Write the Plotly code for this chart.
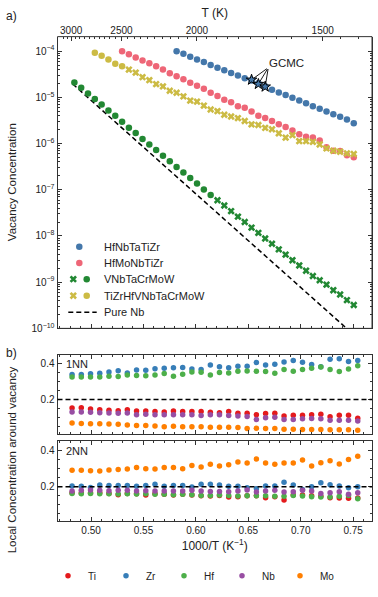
import numpy as np
import plotly.graph_objects as go

# ─── Data ────────────────────────────────────────────────────────────────────

# a) vacancy concentration, common 1000/T grid (index 0..41)
inv_t = [0.4841, 0.4906, 0.4971, 0.5036, 0.5101, 0.5166, 0.5231, 0.5296,
         0.5361, 0.5426, 0.5491, 0.5556, 0.5621, 0.5686, 0.5751, 0.5816,
         0.5881, 0.5946, 0.6011, 0.6076, 0.6141, 0.6206, 0.6271, 0.6336,
         0.6401, 0.6466, 0.6531, 0.6596, 0.6661, 0.6726, 0.6791, 0.6856,
         0.6921, 0.6986, 0.7051, 0.7116, 0.7181, 0.7246, 0.7311, 0.7376,
         0.7441, 0.7506]

hfnbtatizr = [1.00e-4, 8.79e-5, 7.57e-5, 6.64e-5, 5.82e-5, 5.02e-5, 4.40e-5,
              3.86e-5, 3.39e-5, 2.97e-5, 2.60e-5, 2.32e-5, 2.03e-5, 1.75e-5,
              1.46e-5, 1.28e-5, 1.12e-5, 9.87e-6, 8.51e-6, 7.46e-6, 6.44e-6,
              5.65e-6, 4.95e-6, 4.34e-6, 3.80e-6, 3.34e-6, 2.74e-6]      # idx 15..41
gcmc = [2.40e-5, 1.94e-5, 1.70e-5]                                        # idx 26..28

hfmonbtizr = [1.00e-4, 8.63e-5, 7.33e-5, 6.32e-5, 5.46e-5, 4.70e-5, 3.99e-5,
              3.33e-5, 2.87e-5, 2.48e-5, 2.07e-5, 1.78e-5, 1.54e-5, 1.26e-5,
              1.07e-5, 8.93e-6, 7.83e-6, 6.44e-6, 5.93e-6, 4.94e-6, 4.00e-6,
              3.56e-6, 3.08e-6, 2.61e-6, 2.29e-6, 1.91e-6, 1.59e-6, 1.40e-6,
              1.35e-6, 1.16e-6, 8.30e-7, 7.00e-7, 6.90e-7, 5.60e-7, 5.04e-7]  # idx 7..41

vnbtacrmow_dot = [2.10e-5, 1.61e-5, 1.22e-5, 9.25e-6, 6.98e-6, 5.20e-6, 4.00e-6,
                  2.97e-6, 2.21e-6, 1.70e-6, 1.26e-6, 9.57e-7, 7.23e-7, 5.47e-7,
                  4.14e-7, 3.13e-7, 2.37e-7, 1.79e-7, 1.37e-7, 1.02e-7, 7.74e-8]  # idx 0..20
vnbtacrmow_x = [5.94e-8, 4.57e-8, 3.46e-8, 2.62e-8, 2.01e-8, 1.52e-8, 1.17e-8,
                8.83e-9, 6.79e-9, 5.14e-9, 3.95e-9, 2.99e-9, 2.30e-9, 1.77e-9,
                1.36e-9, 1.10e-9, 8.85e-10, 6.70e-10, 5.41e-10, 4.09e-10, 3.20e-10]  # idx 21..41

tizrhf_dot = [9.23e-5, 7.96e-5, 6.64e-5, 5.37e-5, 4.70e-5]               # idx 3..7
tizrhf_x = [3.99e-5, 3.44e-5, 2.74e-5, 2.36e-5, 1.94e-5, 1.73e-5, 1.39e-5,
            1.26e-5, 1.05e-5, 8.51e-6, 8.11e-6, 6.65e-6, 5.46e-6, 5.04e-6,
            4.20e-6, 3.86e-6, 3.56e-6, 3.08e-6, 2.61e-6, 2.52e-6, 2.18e-6,
            2.04e-6, 1.67e-6, 1.35e-6, 1.52e-6, 1.13e-6, 1.13e-6, 1.09e-6,
            9.57e-7, 7.85e-7, 7.00e-7, 6.67e-7, 6.14e-7, 5.94e-7]         # idx 8..41

pure_nb_x = [0.4825, 0.7530]
pure_nb_y = [1.95e-5, 6.5e-11]

# b) local concentration around the vacancy
inv_t_b = [0.4819, 0.4907, 0.4995, 0.5083, 0.5171, 0.5259, 0.5346, 0.5434,
           0.5522, 0.5610, 0.5698, 0.5786, 0.5874, 0.5962, 0.6050, 0.6138,
           0.6225, 0.6313, 0.6401, 0.6489, 0.6577, 0.6665, 0.6753, 0.6841,
           0.6929, 0.7017, 0.7104, 0.7192, 0.7280, 0.7368, 0.7456, 0.7544]

nn1 = {
    "Ti": [0.153, 0.155, 0.147, 0.144, 0.140, 0.138, 0.144, 0.136, 0.136, 0.133,
           0.131, 0.136, 0.133, 0.133, 0.134, 0.129, 0.127, 0.134, 0.124, 0.124,
           0.116, 0.122, 0.124, 0.109, 0.113, 0.113, 0.116, 0.118, 0.104, 0.113,
           0.113, 0.096],
    "Zr": [0.340, 0.340, 0.344, 0.347, 0.355, 0.362, 0.349, 0.366, 0.364, 0.373,
           0.375, 0.378, 0.380, 0.371, 0.369, 0.393, 0.384, 0.378, 0.386, 0.386,
           0.407, 0.393, 0.398, 0.411, 0.418, 0.409, 0.397, 0.384, 0.426, 0.428,
           0.413, 0.418],
    "Hf": [0.326, 0.327, 0.327, 0.327, 0.331, 0.329, 0.337, 0.335, 0.333, 0.337,
           0.346, 0.331, 0.342, 0.355, 0.353, 0.337, 0.351, 0.349, 0.358, 0.360,
           0.358, 0.357, 0.347, 0.369, 0.358, 0.369, 0.375, 0.382, 0.369, 0.357,
           0.371, 0.389],
    "Nb": [0.131, 0.131, 0.129, 0.127, 0.125, 0.124, 0.125, 0.116, 0.118, 0.116,
           0.115, 0.116, 0.115, 0.115, 0.111, 0.115, 0.115, 0.111, 0.109, 0.105,
           0.089, 0.098, 0.102, 0.089, 0.089, 0.093, 0.094, 0.093, 0.085, 0.085,
           0.084, 0.080],
    "Mo": [0.069, 0.067, 0.065, 0.065, 0.064, 0.062, 0.058, 0.055, 0.055, 0.053,
           0.049, 0.051, 0.049, 0.049, 0.049, 0.045, 0.045, 0.045, 0.044, 0.038,
           0.040, 0.038, 0.038, 0.034, 0.034, 0.033, 0.033, 0.033, 0.031, 0.031,
           0.031, 0.029],
}

nn2 = {
    "Ti": [0.167, 0.165, 0.165, 0.167, 0.163, 0.156, 0.163, 0.161, 0.154, 0.161,
           0.158, 0.154, 0.158, 0.154, 0.150, 0.149, 0.152, 0.143, 0.145, 0.150,
           0.150, 0.139, 0.145, 0.127, 0.154, 0.154, 0.150, 0.147, 0.139, 0.138,
           0.136, 0.138],
    "Zr": [0.204, 0.202, 0.196, 0.209, 0.207, 0.207, 0.207, 0.202, 0.206, 0.213,
           0.202, 0.206, 0.207, 0.198, 0.213, 0.213, 0.209, 0.202, 0.202, 0.194,
           0.189, 0.204, 0.204, 0.224, 0.209, 0.185, 0.200, 0.222, 0.211, 0.204,
           0.194, 0.200],
    "Hf": [0.163, 0.161, 0.163, 0.161, 0.161, 0.160, 0.161, 0.160, 0.161, 0.158,
           0.158, 0.156, 0.158, 0.156, 0.152, 0.152, 0.154, 0.152, 0.149, 0.150,
           0.150, 0.150, 0.147, 0.147, 0.152, 0.149, 0.145, 0.143, 0.143, 0.147,
           0.152, 0.134],
    "Nb": [0.176, 0.180, 0.182, 0.180, 0.178, 0.180, 0.180, 0.176, 0.178, 0.176,
           0.176, 0.176, 0.176, 0.180, 0.176, 0.174, 0.174, 0.172, 0.176, 0.182,
           0.171, 0.176, 0.180, 0.171, 0.172, 0.180, 0.176, 0.163, 0.167, 0.172,
           0.158, 0.167],
    "Mo": [0.290, 0.290, 0.288, 0.286, 0.292, 0.294, 0.297, 0.305, 0.299, 0.297,
           0.305, 0.306, 0.299, 0.316, 0.308, 0.323, 0.314, 0.321, 0.336, 0.330,
           0.352, 0.330, 0.323, 0.330, 0.330, 0.347, 0.314, 0.332, 0.343, 0.325,
           0.350, 0.367],
}
random_level = 0.2

t_major = [3000, 2500, 2000, 1500]
t_minor = [t for t in range(1400, 3150, 50) if t not in t_major]

# ─── Styling ─────────────────────────────────────────────────────────────────

W, H = 378, 597
FONT = "Liberation Sans, Arial, sans-serif"
INK = "#222222"
FRAME = "#333333"
C_BLUE, C_PINK, C_GREEN, C_YELLOW = "#4477AA", "#EE6677", "#228833", "#CCBB44"
ELEM_COLORS = {"Ti": "#e41a1c", "Zr": "#377eb8", "Hf": "#4daf4a",
               "Nb": "#984ea3", "Mo": "#ff7f00"}

X_RANGE = [0.468, 0.768]
XDOM = [57.5 / W, 372 / W]
Y_RANGE_A = [-10, -3.685]
A_TOP, A_BOT = 37, 331.7


def ydom(top_px, bot_px):
    return [1 - bot_px / H, 1 - top_px / H]


def t_pos(T):
    # position of the temperature ticks on the upper axis
    return 0.72 * 1000 / T + 0.241


base = dict(showline=True, linecolor=FRAME, linewidth=1, ticks="inside",
            tickcolor=FRAME, ticklen=4, showgrid=False, zeroline=False,
            tickfont=dict(size=10, color=INK))
x_minor = dict(dtick=0.01, tick0=0.5, ticks="inside", ticklen=2, tickcolor=FRAME)
y_minor = dict(dtick=0.05, tick0=0, ticks="inside", ticklen=2, tickcolor=FRAME)

fig = go.Figure()

# ─── Panel a ─────────────────────────────────────────────────────────────────
dot = dict(size=6.5, symbol="circle")
cross = dict(size=6.5, symbol="x")

fig.add_trace(go.Scatter(x=pure_nb_x, y=pure_nb_y, mode="lines",
                         line=dict(color="black", width=1.5, dash="5px,3px"),
                         xaxis="x", yaxis="y", showlegend=False))
fig.add_trace(go.Scatter(x=inv_t[15:], y=hfnbtatizr, mode="markers",
                         marker=dict(color=C_BLUE, **dot), showlegend=False))
fig.add_trace(go.Scatter(x=inv_t[7:], y=hfmonbtizr, mode="markers",
                         marker=dict(color=C_PINK, **dot), showlegend=False))
fig.add_trace(go.Scatter(x=inv_t[:21], y=vnbtacrmow_dot, mode="markers",
                         marker=dict(color=C_GREEN, **dot), showlegend=False))
fig.add_trace(go.Scatter(x=inv_t[21:], y=vnbtacrmow_x, mode="markers",
                         marker=dict(color=C_GREEN, **cross), showlegend=False))
fig.add_trace(go.Scatter(x=inv_t[3:8], y=tizrhf_dot, mode="markers",
                         marker=dict(color=C_YELLOW, **dot), showlegend=False))
fig.add_trace(go.Scatter(x=inv_t[8:], y=tizrhf_x, mode="markers",
                         marker=dict(color=C_YELLOW, **cross), showlegend=False))
fig.add_trace(go.Scatter(x=inv_t[26:29], y=gcmc, mode="markers",
                         marker=dict(color=C_BLUE, size=8, symbol="star",
                                     line=dict(color="black", width=1)),
                         showlegend=False))
# invisible carrier for the temperature axis (thin strip on top of panel a)
fig.add_trace(go.Scatter(x=X_RANGE, y=[0, 0], mode="markers",
                         marker=dict(opacity=0), xaxis="x2", yaxis="y2",
                         showlegend=False, hoverinfo="skip"))

# panel a frame, in paper coordinates
fig.add_shape(type="rect", xref="paper", yref="paper", x0=XDOM[0], x1=XDOM[1],
              y0=1 - A_BOT / H, y1=1 - A_TOP / H,
              line=dict(color=FRAME, width=1), layer="above")

# GCMC label with leader lines
hub_x, hub_y = 0.6691, -4.355
for xs, ys in zip(inv_t[26:29], gcmc):
    fig.add_annotation(x=xs, y=np.log10(ys), ax=hub_x, ay=hub_y,
                       axref="x", ayref="y", xref="x", yref="y", text="",
                       showarrow=True, arrowhead=0, arrowwidth=0.9,
                       arrowcolor="black", standoff=3)
fig.add_annotation(x=0.6867, y=-4.25, xref="x", yref="y", text="GCMC",
                   showarrow=False, font=dict(size=11.5, color=INK))

# ─── Panel b ─────────────────────────────────────────────────────────────────
for el, col in ELEM_COLORS.items():
    fig.add_trace(go.Scatter(x=inv_t_b, y=nn1[el], mode="markers", name=el,
                             marker=dict(color=col, size=5.5),
                             xaxis="x3", yaxis="y3", showlegend=True))
for el, col in ELEM_COLORS.items():
    fig.add_trace(go.Scatter(x=inv_t_b, y=nn2[el], mode="markers", name=el,
                             marker=dict(color=col, size=5.5),
                             xaxis="x4", yaxis="y4", showlegend=False))

for xa, ya in (("x3", "y3"), ("x4", "y4")):
    fig.add_shape(type="line", xref=xa + " domain", x0=0, x1=1,
                  yref=ya, y0=random_level, y1=random_level,
                  line=dict(color="black", width=1.5, dash="5px,3px"))

# ─── Custom legend for panel a (pixel overlay axes) ──────────────────────────
leg_rows = [249.3, 265.7, 282, 298.7, 315.3]
leg_names = ["HfNbTaTiZr", "HfMoNbTiZr", "VNbTaCrMoW", "TiZrHfVNbTaCrMoW", "Pure Nb"]
pix = dict(xaxis="x5", yaxis="y5", showlegend=False, hoverinfo="skip")
fig.add_trace(go.Scatter(x=[79.3, 79.3], y=leg_rows[:2], mode="markers",
                         marker=dict(color=[C_BLUE, C_PINK], **dot), **pix))
fig.add_trace(go.Scatter(x=[73.3, 73.3], y=leg_rows[2:4], mode="markers",
                         marker=dict(color=[C_GREEN, C_YELLOW], **cross), **pix))
fig.add_trace(go.Scatter(x=[86.7, 86.7], y=leg_rows[2:4], mode="markers",
                         marker=dict(color=[C_GREEN, C_YELLOW], **dot), **pix))
fig.add_trace(go.Scatter(x=[68.3, 96.7], y=[leg_rows[4]] * 2, mode="lines",
                         line=dict(color="black", width=1.5, dash="5px,3px"), **pix))
for name, yr in zip(leg_names, leg_rows):
    fig.add_annotation(x=101.7, y=yr, xref="x5", yref="y5", text=name,
                       showarrow=False, xanchor="left",
                       font=dict(size=11, color=INK))

# ─── Texts ───────────────────────────────────────────────────────────────────
for txt, px, py, size, ang in [("a)", 11, 16, 12, 0), ("b)", 11, 357, 12, 0),
                               ("Vacancy Concentration", 12, 184, 11.5, -90),
                               ("Local Concentration around vacancy", 12, 465, 11.5, -90)]:
    fig.add_annotation(x=px / W, y=1 - py / H, xref="paper", yref="paper",
                       text=txt, showarrow=False, textangle=ang,
                       xanchor="center", yanchor="middle",
                       font=dict(size=size, color=INK))
for txt, xa, ya in [("1NN", "x3", "y3"), ("2NN", "x4", "y4")]:
    fig.add_annotation(x=0.02, y=0.98, xref=xa + " domain", yref=ya + " domain",
                       text=txt, showarrow=False, xanchor="left", yanchor="top",
                       font=dict(size=11, color=INK))

# ─── Axes ────────────────────────────────────────────────────────────────────
dec = list(range(-10, -3))
y_minor_vals = [m * 10.0 ** d for d in range(-11, -3) for m in range(2, 10)]

fig.update_layout(
    width=W, height=H, margin=dict(l=0, r=0, t=0, b=0),
    plot_bgcolor="rgba(0,0,0,0)", paper_bgcolor="white",
    font=dict(family=FONT, size=11, color=INK),
    xaxis=dict(base, domain=XDOM, range=X_RANGE, anchor="y",
               dtick=0.05, tick0=0.5, showticklabels=False, minor=x_minor),
    xaxis2=dict(base, domain=XDOM, side="top", anchor="y2", range=X_RANGE,
                showline=False,
                tickmode="array", tickvals=[t_pos(t) for t in t_major],
                ticktext=[str(t) for t in t_major],
                minor=dict(tickmode="array", tickvals=[t_pos(t) for t in t_minor],
                           ticks="inside", ticklen=2, tickcolor=FRAME),
                title=dict(text="T (K)", font=dict(size=12), standoff=4)),
    yaxis2=dict(domain=[1 - (A_TOP + 0.5) / H, 1 - A_TOP / H], anchor="x2",
                visible=False, range=[-1, 1]),
    yaxis=dict(base, type="log", domain=ydom(A_TOP, A_BOT), anchor="x",
               range=Y_RANGE_A, mirror="allticks",
               tickmode="array", tickvals=[10.0 ** d for d in dec],
               ticktext=["10<sup>\u2212%d</sup>" % -d for d in dec],
               minor=dict(tickmode="array", tickvals=y_minor_vals,
                          ticks="inside", ticklen=2, tickcolor=FRAME)),
    xaxis3=dict(base, domain=XDOM, range=X_RANGE, anchor="y3", mirror="allticks",
                dtick=0.05, tick0=0.5, showticklabels=False, minor=x_minor),
    yaxis3=dict(base, domain=ydom(358.5, 438), anchor="x3", range=[0.01, 0.45],
                mirror="allticks", tickmode="array", tickvals=[0.2, 0.4],
                ticktext=["0.2", "0.4"], minor=y_minor),
    xaxis4=dict(base, domain=XDOM, range=X_RANGE, anchor="y4", mirror="allticks",
                dtick=0.05, tick0=0.5, tickformat=".2f", minor=x_minor,
                title=dict(text="1000/T (K<sup>\u22121</sup>)", font=dict(size=12),
                           standoff=6)),
    yaxis4=dict(base, domain=ydom(445.7, 526.5), anchor="x4", range=[0.01, 0.45],
                mirror="allticks", tickmode="array", tickvals=[0.2, 0.4],
                ticktext=["0.2", "0.4"], minor=y_minor),
    xaxis5=dict(domain=[0, 1], range=[0, W], visible=False, anchor="y5"),
    yaxis5=dict(domain=[0, 1], range=[H, 0], visible=False, anchor="x5"),
    legend=dict(orientation="h", x=48 / W, y=1 - 581.7 / H, yanchor="middle",
                xanchor="left", entrywidth=13, font=dict(size=10, color=INK),
                itemwidth=30, bgcolor="rgba(0,0,0,0)"),
)

fig.write_html("out.html", config={"displayModeBar": False},
               post_script="document.body.style.margin='0px';")
